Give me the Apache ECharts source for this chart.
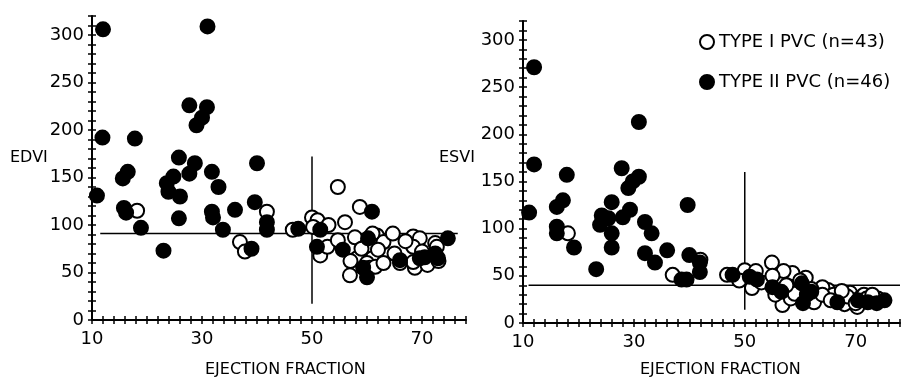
<!DOCTYPE html>
<html>
<head>
<meta charset="utf-8">
<title>EDVI / ESVI vs ejection fraction</title>
<script src="https://cdn.jsdelivr.net/npm/echarts@6/dist/echarts.min.js"></script>
<style>
body{margin:0;background:#fff}
#chart{width:903px;height:385px}
</style>
</head>
<body>
<div id="chart"></div>
<script>
// tick labels
var efLabels = [10, 30, 50, 70];
var viLabels = [0, 50, 100, 150, 200, 250, 300];

// [ejection fraction, EDVI]
var edviType1 = [[18.2,115],[41.8,114],[36.9,82],[37.8,72],[46.5,95],[50,108],[51,105],[51.5,68],[52.8,77],[54.7,140],
  [58.7,119],[56,103],[54.7,84],[57.8,87],[61.8,89],[63,82],[64.7,91],[58.2,65],[61,65],[60,60],[56.9,47],[60.5,55],
  [61.5,56],[65,70],[68.4,88],[69.6,86],[68.4,77],[68.7,55],[68.4,61],[72.4,81],[72.7,77],[61,91],[50.2,98],[53,100],
  [59,75],[62,74],[66,60],[71,58],[67,83],[63,60],[70,72],[57,62],[73,62]];
var edviType2 = [[12,306],[31,309],[27.7,226],[30.9,224],[30,213],[29,205],[11.9,192],[17.8,191],[25.8,171],[28.7,165],
  [27.7,154],[31.8,156],[33,140],[16.5,156],[15.6,149],[24.8,151],[23.6,144],[10.9,131],[15.8,118],[16.2,113],[18.9,97],
  [23,73],[25.8,107],[23.9,135],[26,130],[31.8,114],[32,108],[33.8,95],[40,165],[36,116],[39.6,124],[41.8,103],[41.8,95],
  [39,75],[47.5,96],[51.5,95],[50.9,77],[60.9,114],[55.6,74],[60.2,86],[59.3,55],[60,45],[66,63],[70.5,66],[72.4,70],
  [72.9,65],[69.6,65],[74.7,86]];

// [ejection fraction, ESVI]
var esviType1 = [[18.1,95],[37,51],[46.8,51],[50,56],[51.3,37],[54.9,64],[56,46],[58.6,53],[56.8,19],[59.9,38],[58.3,26],
  [65,35],[69,32],[69.5,24],[70.3,17],[70.9,27],[42,67],[63,28],[64,38],[67,25],[71.5,30],[72,26],[53,43],[55.5,30],
  [59,31],[57.5,40],[62.5,22],[66,30],[68,20],[74,26],[73,30],[61,48],[52,55],[49,45],[60,45],[64,30],[68.5,28],[57,55],
  [55,50],[62,36],[65.5,24],[70,21],[67.5,34]];
var esviType2 = [[12,271],[30.9,213],[12,168],[17.9,157],[27.8,164],[30.9,155],[29.8,150],[29,143],[11.1,117],[17.2,130],
  [16.1,123],[16.1,102],[16.1,95],[19.2,80],[23.2,57],[24.2,114],[23.9,104],[26,128],[25.4,111],[26,95],[26,80],[29.3,120],
  [28,112],[32,107],[33.2,95],[32,74],[33.8,64],[36,77],[39.7,125],[40,72],[41.9,64],[41.9,54],[38.6,46],[39.5,46],
  [47.8,51],[50.9,49],[52.2,46],[55,38],[56.6,33],[60.3,42],[61.2,30],[60.5,21],[62,33],[66.7,22],[70.4,24],[72.2,22],
  [73.8,21],[75.2,24]];

// reference lines
var edviHLine = [[11.5,91],[76.5,91]];
var edviVLine = [[50,17],[50,172]];
var esviHLine = [[11,40],[78,40]];
var esviVLine = [[50,14],[50,160]];

var nameI = 'TYPE I PVC (n=43)';
var nameII = 'TYPE II PVC (n=46)';
var font = 'DejaVu Sans';

function xAx(grid, inner) {
  return {
    type: 'value', gridIndex: grid, position: 'bottom', min: 10, max: 78, interval: 2,
    splitLine: {show: false},
    axisLine: {show: !inner, onZero: false, lineStyle: {color: '#000', width: 2}},
    axisTick: {inside: inner, length: 4, lineStyle: {color: '#000', width: 1.5}},
    axisLabel: {show: !inner, margin: 10, color: '#000', fontFamily: font, fontSize: 18,
      formatter: function (v) { return efLabels.indexOf(v) >= 0 ? v : ''; }}
  };
}
function yAx(grid, inner) {
  return {
    type: 'value', gridIndex: grid, position: 'left', min: 0, max: 320, interval: 10,
    splitLine: {show: false},
    axisLine: {show: !inner, onZero: false, lineStyle: {color: '#000', width: 2}},
    axisTick: {inside: inner, length: 4, lineStyle: {color: '#000', width: 1.5}},
    axisLabel: {show: !inner, margin: 8, color: '#000', fontFamily: font, fontSize: 18,
      formatter: function (v) { return viLabels.indexOf(v) >= 0 ? v : ''; }}
  };
}
function dots(name, data, xi, yi, filled) {
  return {
    name: name, type: 'scatter', xAxisIndex: xi, yAxisIndex: yi, data: data,
    symbol: 'circle', symbolSize: 14, z: filled ? 4 : 3,
    itemStyle: {color: filled ? '#000' : '#fff', borderColor: '#000', borderWidth: 2, opacity: 1}
  };
}
function refLine(data, xi, yi) {
  return {
    type: 'line', xAxisIndex: xi, yAxisIndex: yi, data: data, symbol: 'none', silent: true, z: 2,
    lineStyle: {color: '#000', width: 1.5}
  };
}

var chart = echarts.init(document.getElementById('chart'));
chart.setOption({
  animation: false,
  grid: [
    {left: 92, top: 16, width: 374, height: 304},
    {left: 523, top: 21, width: 377, height: 302}
  ],
  xAxis: [xAx(0, false), xAx(0, true), xAx(1, false), xAx(1, true)],
  yAxis: [yAx(0, false), yAx(0, true), yAx(1, false), yAx(1, true)],
  legend: {
    data: [nameI, nameII], orient: 'vertical', left: 699, top: 33, itemGap: 22,
    itemWidth: 14, itemHeight: 14, padding: 0,
    textStyle: {color: '#000', fontFamily: font, fontSize: 18}
  },
  graphic: [
    {type: 'text', left: 10, top: 150, style: {text: 'EDVI', fill: '#000', font: '16px "DejaVu Sans"'}},
    {type: 'text', left: 439, top: 150, style: {text: 'ESVI', fill: '#000', font: '16px "DejaVu Sans"'}},
    {type: 'text', left: 205, top: 362, style: {text: 'EJECTION FRACTION', fill: '#000', font: '16px "DejaVu Sans"'}},
    {type: 'text', left: 640, top: 362, style: {text: 'EJECTION FRACTION', fill: '#000', font: '16px "DejaVu Sans"'}}
  ],
  series: [
    refLine(edviHLine, 0, 0), refLine(edviVLine, 0, 0),
    refLine(esviHLine, 2, 2), refLine(esviVLine, 2, 2),
    dots(nameI, edviType1, 0, 0, false), dots(nameII, edviType2, 0, 0, true),
    dots(nameI, esviType1, 2, 2, false), dots(nameII, esviType2, 2, 2, true)
  ]
});
</script>
</body>
</html>
